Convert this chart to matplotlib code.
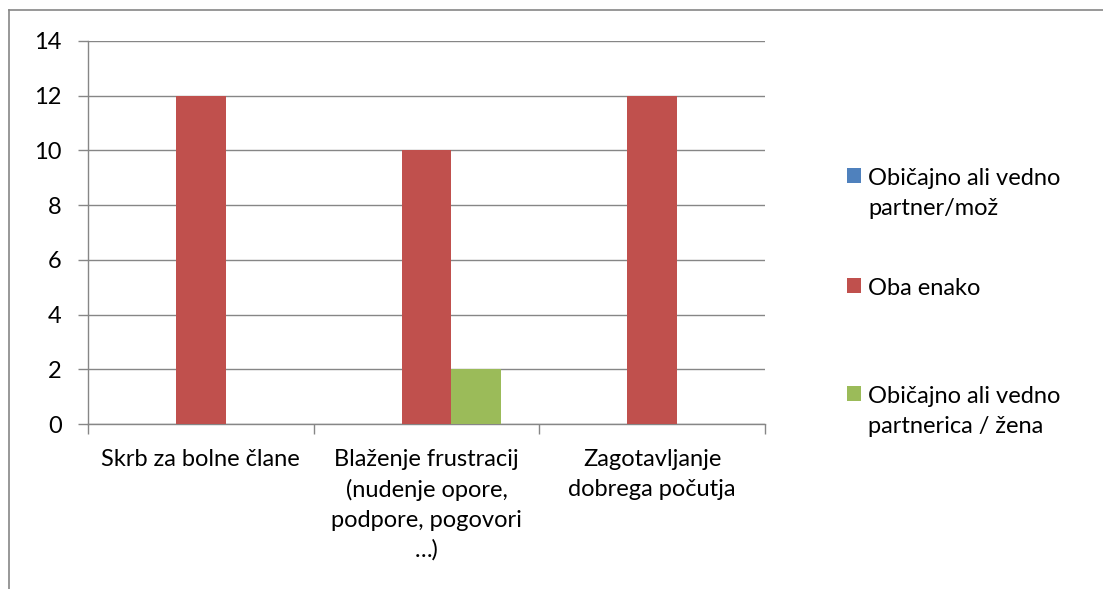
import numpy as np
import matplotlib.pyplot as plt
from matplotlib.patches import Patch
from matplotlib.lines import Line2D

plt.rcParams['font.family'] = ['Lato', 'DejaVu Sans']

categories = [
    "Skrb za bolne člane",
    "Blaženje frustracij\n(nudenje opore,\npodpore, pogovori\n…)",
    "Zagotavljanje\ndobrega počutja",
]
series_names = [
    "Običajno ali vedno\npartner/mož",
    "Oba enako",
    "Običajno ali vedno\npartnerica / žena",
]
partner_moz = [0, 0, 0]
oba_enako = [12, 10, 12]
partnerica_zena = [0, 2, 0]
y_ticks = [0, 2, 4, 6, 8, 10, 12, 14]

colors = ["#4F81BD", "#C0504D", "#9BBB59"]
grid_col = "#868686"
fs = 17

fig = plt.figure(figsize=(11.03, 5.89), dpi=100)
ax = fig.add_axes([0.0798, 0.2801, 0.6138, 0.6503])

x = np.arange(len(categories))
w = 0.221
for i, (vals, col) in enumerate(zip([partner_moz, oba_enako, partnerica_zena], colors)):
    ax.bar(x + (i - 1) * w, vals, width=w, color=col, zorder=3)

ax.set_xlim(-0.5, len(categories) - 0.5)
ax.set_ylim(0, 14)
ax.set_yticks(y_ticks)
ax.yaxis.grid(True, color=grid_col, linewidth=1.0, zorder=0)
ax.tick_params(axis='y', length=7, width=1, color=grid_col, pad=12, labelsize=fs)
ax.set_xticks(x)
ax.set_xticklabels(categories, fontsize=fs, linespacing=1.5)
ax.tick_params(axis='x', length=0, pad=18)
ax.set_xticks(np.arange(-0.5, len(categories)), minor=True)
ax.tick_params(axis='x', which='minor', length=7, width=1, color=grid_col)

for s in ['top', 'right']:
    ax.spines[s].set_visible(False)
for s in ['left', 'bottom']:
    ax.spines[s].set_color(grid_col)
    ax.spines[s].set_linewidth(1.0)

# legend: one entry per slot, evenly spaced like the Excel legend
legend_tops = [0.7148, 0.528, 0.3446]
for name, col, top in zip(series_names, colors, legend_tops):
    leg = fig.legend([Patch(facecolor=col, edgecolor='none')], [name],
                     loc='upper left', bbox_to_anchor=(0.768, top),
                     frameon=False, fontsize=fs, handlelength=0.6, handleheight=0.6,
                     handletextpad=0.3, borderpad=0, borderaxespad=0)
    for t in leg.get_texts():
        t.set_linespacing(1.55)
    # put the square next to the first line of text
    for column in leg._legend_handle_box.get_children():
        for row in column.get_children():
            row.align = "top"

# chart area border (top and left visible)
fig.add_artist(Line2D([0.0082, 0.0082], [0.0, 0.983], transform=fig.transFigure,
                      color=grid_col, linewidth=1.2))
fig.add_artist(Line2D([0.0082, 1.0], [0.983, 0.983], transform=fig.transFigure,
                      color=grid_col, linewidth=1.2))

fig.savefig("out.png", dpi=100)
